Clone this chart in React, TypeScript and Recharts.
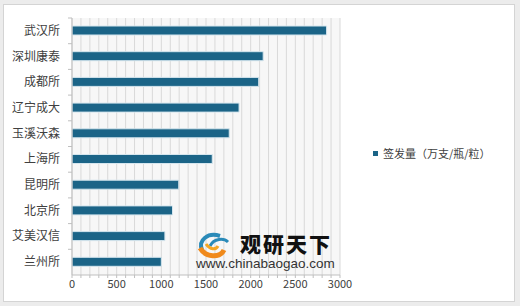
import { Bar, BarChart, CartesianGrid, XAxis, YAxis } from 'recharts';

const categories = ['武汉所', '深圳康泰', '成都所', '辽宁成大', '玉溪沃森', '上海所', '昆明所', '北京所', '艾美汉信', '兰州所'];
const issued = [2850, 2140, 2090, 1870, 1760, 1570, 1195, 1125, 1040, 1000];
const seriesName = '签发量（万支/瓶/粒）';
const xTicks = [
  0, 100, 200, 300, 400, 500, 600, 700, 800, 900, 1000, 1100, 1200, 1300, 1400, 1500, 1600, 1700, 1800, 1900, 2000,
  2100, 2200, 2300, 2400, 2500, 2600, 2700, 2800, 2900, 3000,
];

const data = categories.map((name, i) => ({ name, value: issued[i] }));

const FONT = '"Noto Sans CJK SC", "Noto Sans", sans-serif';
const BAND = 25.7;

const CategoryTick = (props: any) => {
  const { x, y, payload } = props;
  return (
    <g>
      <line x1={x + 4} x2={x + 8} y1={y - BAND / 2} y2={y - BAND / 2} stroke="#bfbfbf" />
      <text x={x - 4} y={y} dy={4} textAnchor="end" fontSize={12} fill="#404040" fontFamily={FONT}>
        {payload.value}
      </text>
    </g>
  );
};

export default function App() {
  return (
    <div style={{ position: 'absolute', left: 0, top: 0, width: 520, height: 306, background: '#ececec' }}>
      <div
        style={{
          position: 'absolute',
          left: 3,
          top: 4,
          width: 510,
          height: 296,
          background: '#fff',
          border: '1px solid #d4d4d4',
        }}
      />
      <div style={{ position: 'absolute', left: 0, top: 0 }}>
        <BarChart
          width={520}
          height={306}
          data={data}
          layout="vertical"
          margin={{ top: 18, right: 180, bottom: 6, left: 0 }}
          barCategoryGap="33%"
        >
          <CartesianGrid horizontal={false} stroke="#d9d9d9" fill="#f7f7f7" />
          <XAxis
            type="number"
            domain={[0, 3000]}
            ticks={xTicks}
            interval={0}
            height={25}
            tickSize={3}
            tickFormatter={(v: number) => (v % 500 === 0 ? String(v) : '')}
            axisLine={{ stroke: '#bfbfbf' }}
            tickLine={{ stroke: '#bfbfbf' }}
            tick={{ fontSize: 11, fill: '#404040', fontFamily: FONT }}
          />
          <YAxis
            type="category"
            dataKey="name"
            width={72}
            tickLine={false}
            axisLine={{ stroke: '#bfbfbf' }}
            tick={<CategoryTick />}
            interval={0}
          />
          <Bar
            dataKey="value"
            name={seriesName}
            fill="#1b6487"
            stroke="#d6e6ee"
            strokeWidth={1}
            barSize={9}
            isAnimationActive={false}
          />
        </BarChart>
      </div>
      <div
        style={{
          position: 'absolute',
          left: 373,
          top: 145,
          fontFamily: FONT,
          fontSize: 11,
          color: '#404040',
          display: 'flex',
          alignItems: 'center',
          whiteSpace: 'nowrap',
        }}
      >
        <span style={{ width: 5, height: 5, background: '#1b6487', marginRight: 5, display: 'inline-block' }} />
        {seriesName}
      </div>
      <div style={{ position: 'absolute', left: 194, top: 226, width: 150, height: 46, pointerEvents: 'none' }}>
        <svg width={36} height={32} style={{ position: 'absolute', left: 2, top: 2 }}>
          <path d="M6 22 C2 12 12 4 24 8" stroke="#2a8ab8" strokeWidth={4} fill="none" />
          <path d="M14 18 C18 10 28 10 32 14" stroke="#2a8ab8" strokeWidth={3} fill="none" />
          <path d="M4 20 C10 30 24 30 28 22" stroke="#f08a1c" strokeWidth={5} fill="none" />
          <path d="M10 16 C14 22 20 22 22 18" stroke="#f5a623" strokeWidth={3} fill="none" />
        </svg>
        <div
          style={{
            position: 'absolute',
            left: 46,
            top: 2,
            fontFamily: FONT,
            fontWeight: 900,
            fontSize: 21,
            letterSpacing: 2,
            color: '#111',
            whiteSpace: 'nowrap',
          }}
        >
          观研天下
        </div>
        <div
          style={{
            position: 'absolute',
            left: 2,
            top: 30,
            fontFamily: '"Liberation Sans", Arial, sans-serif',
            fontSize: 13.5,
            color: '#333',
            whiteSpace: 'nowrap',
          }}
        >
          www.chinabaogao.com
        </div>
      </div>
    </div>
  );
}
